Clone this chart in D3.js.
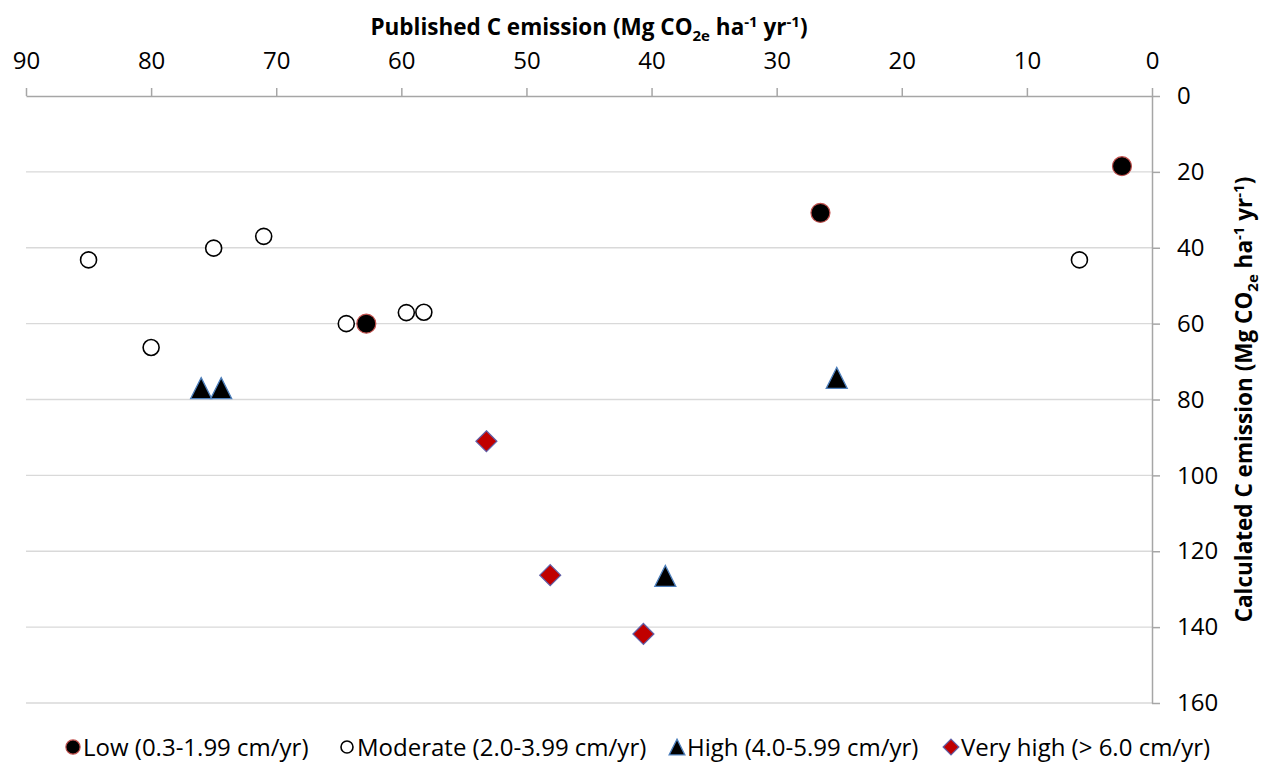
<!DOCTYPE html>
<html>
<head>
<meta charset="utf-8">
<script src="https://cdn.jsdelivr.net/npm/d3@7"></script>
<style>
  html, body { margin: 0; padding: 0; background: #fff; }
  svg { display: block; font-family: "Open Sans", Lato, sans-serif; }
</style>
</head>
<body>
<div id="chart"></div>
<script>
// values: [published, calculated]
const lowPts = [[2.4, 18.5], [26.5, 30.8], [62.8, 60]];
const moderatePts = [[85, 43.2], [80, 66.3], [75, 40.1], [71, 37], [64.4, 60], [59.6, 57.1], [58.2, 57], [5.8, 43.2]];
const highPts = [[76, 77], [74.4, 77], [38.9, 126.5], [25.2, 74.3]];
const veryHighPts = [[53.2, 91], [48.1, 126.3], [40.65, 141.8]];

const xTicks = [90, 80, 70, 60, 50, 40, 30, 20, 10, 0];
const yTicks = [0, 20, 40, 60, 80, 100, 120, 140, 160];
const seriesNames = ['Low (0.3-1.99 cm/yr)', 'Moderate (2.0-3.99 cm/yr)', 'High (4.0-5.99 cm/yr)', 'Very high (> 6.0 cm/yr)'];

const width = 1263, height = 769;
const plotLeft = 26, plotRight = 1152, plotTop = 96, plotBottom = 703;
const fontFam = '"Open Sans", Lato, sans-serif';

const svg = d3.select('#chart').append('svg')
  .attr('width', width)
  .attr('height', height);

// both axes reversed
const x = d3.scaleLinear().domain([90, 0]).range([plotLeft, plotRight]);
const y = d3.scaleLinear().domain([0, 160]).range([plotTop, plotBottom]);

// gridlines
svg.append('g')
  .selectAll('line')
  .data(yTicks.filter(d => d > 0))
  .enter().append('line')
  .attr('x1', plotLeft).attr('x2', plotRight)
  .attr('y1', d => y(d)).attr('y2', d => y(d))
  .attr('stroke', '#d9d9d9')
  .attr('stroke-width', 1.3);

// top x axis
const xAxis = svg.append('g')
  .attr('transform', `translate(0,${plotTop})`)
  .call(d3.axisTop(x).tickValues(xTicks).tickSize(8).tickPadding(19).tickSizeOuter(0));
xAxis.select('.domain').attr('stroke', '#a6a6a6').attr('stroke-width', 1.5);
xAxis.selectAll('.tick line').attr('stroke', '#a6a6a6').attr('stroke-width', 1.5);
xAxis.selectAll('.tick text')
  .attr('font-size', 24).attr('fill', '#000').attr('font-family', fontFam);

// right y axis
const yAxis = svg.append('g')
  .attr('transform', `translate(${plotRight},0)`)
  .call(d3.axisRight(y).tickValues(yTicks).tickSize(8).tickPadding(17).tickSizeOuter(0));
yAxis.select('.domain').attr('stroke', '#a6a6a6').attr('stroke-width', 1.5);
yAxis.selectAll('.tick line').attr('stroke', '#a6a6a6').attr('stroke-width', 1.5);
yAxis.selectAll('.tick text')
  .attr('font-size', 24).attr('fill', '#000').attr('font-family', fontFam);

// axis titles with sub/superscripts
function unitTitle(sel) {
  sel.append('tspan').text('(Mg CO');
  sel.append('tspan').attr('font-size', 15).attr('dy', 6).text('2e');
  sel.append('tspan').attr('dy', -6).text(' ha');
  sel.append('tspan').attr('font-size', 15).attr('dy', -8).text('-1');
  sel.append('tspan').attr('dy', 8).text(' yr');
  sel.append('tspan').attr('font-size', 15).attr('dy', -8).text('-1');
  sel.append('tspan').attr('dy', 8).text(')');
}

const xTitle = svg.append('text')
  .attr('x', (plotLeft + plotRight) / 2).attr('y', 35)
  .attr('text-anchor', 'middle')
  .attr('font-size', 22.5).attr('font-weight', 'bold');
xTitle.append('tspan').text('Published C emission ');
unitTitle(xTitle);

const yTitle = svg.append('text')
  .attr('transform', `translate(1252,${(plotTop + plotBottom) / 2}) rotate(-90)`)
  .attr('text-anchor', 'middle')
  .attr('font-size', 22.5).attr('font-weight', 'bold');
yTitle.append('tspan').text('Calculated C emission ');
unitTitle(yTitle);

// marker shapes
const triangle = s => `M0,${-s / 2}L${s / 2},${s / 2}L${-s / 2},${s / 2}Z`;
const diamond = s => `M0,${-s}L${s},0L0,${s}L${-s},0Z`;

const styles = [
  { draw: (g, r) => g.append('circle').attr('r', r * 9.5).attr('fill', '#000').attr('stroke', '#c0504d').attr('stroke-width', 1.2) },
  { draw: (g, r) => g.append('circle').attr('r', r * 8).attr('fill', '#fff').attr('stroke', '#000').attr('stroke-width', 1.6) },
  { draw: (g, r) => g.append('path').attr('d', triangle(r * 21)).attr('fill', '#000').attr('stroke', '#4f81bd').attr('stroke-width', 1.3) },
  { draw: (g, r) => g.append('path').attr('d', diamond(r * 10.5)).attr('fill', '#c00000').attr('stroke', '#6060a8').attr('stroke-width', 1.2) }
];

const allSeries = [lowPts, moderatePts, highPts, veryHighPts];

allSeries.forEach((pts, i) => {
  svg.append('g')
    .selectAll('g')
    .data(pts)
    .enter().append('g')
    .attr('transform', d => `translate(${x(d[0])},${y(d[1])})`)
    .each(function () { styles[i].draw(d3.select(this), 1); });
});

// legend
const legendY = 747;
const legendX = [73, 347, 677, 951];
seriesNames.forEach((name, i) => {
  const g = svg.append('g').attr('transform', `translate(${legendX[i]},${legendY})`);
  styles[i].draw(g, 0.75);
  g.append('text')
    .attr('x', 10).attr('y', 8.5)
    .attr('font-size', 24)
    .text(name);
});
</script>
</body>
</html>
